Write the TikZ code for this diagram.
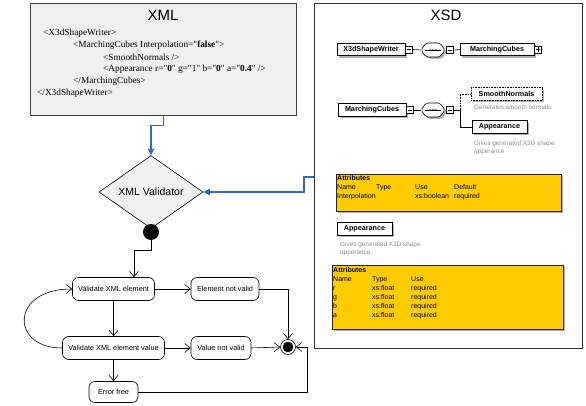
\documentclass[tikz,border=0pt]{standalone}
\usepackage{fontspec}
\setmainfont{Liberation Sans}
\newfontfamily\codefont{Liberation Serif}
\usetikzlibrary{arrows.meta,shapes.geometric,shadows,calc}
\definecolor{bluec}{HTML}{3366CC}
\definecolor{attrfill}{HTML}{FFCC00}
\definecolor{panelgray}{HTML}{F0F0F0}
\definecolor{desc}{HTML}{8C8C8C}
\newcommand\seqsym[1]{%
  \begin{scope}[shift={(#1.center)}]
   \fill[black!30, rounded corners=2pt] (-10,2)--(-5,-5)--(9,-5)--(14,2)--(9,9)--(-5,9)--cycle;
   \draw[fill=white, line width=0.6pt, rounded corners=2pt] (-12,0)--(-7,-7)--(7,-7)--(12,0)--(7,7)--(-7,7)--cycle;
   \draw[line width=0.5pt] (-8,0)--(8,0);
   \foreach \d in {-3,0,3} \fill (\d,0) circle (0.9pt);
  \end{scope}}
\begin{document}
\begin{tikzpicture}[x=1pt,y=-1pt,
  codeline/.style={anchor=west, inner sep=0, font=\codefont\fontsize{9.3}{11}\selectfont},
  titletext/.style={font=\fontsize{15}{18}\selectfont},
  flownode/.style={draw, line width=0.6pt, rounded corners=6pt, minimum height=23pt, inner sep=0, font=\fontsize{7.3}{9}\selectfont},
  flowarr/.style={line width=0.6pt, -{Straight Barb[length=5.5pt,width=9pt]}},
  bluearr/.style={draw=bluec, line width=1.1pt, -{Triangle[length=6.5pt,width=6.5pt]}},
  shadowed/.style={drop shadow={shadow xshift=2pt, shadow yshift=-2pt, fill=black!30, opacity=1}},
  xsdel/.style={draw, fill=white, line width=0.6pt, minimum height=12.5pt, inner sep=0, font=\bfseries\fontsize{7.2}{8}\selectfont, shadowed},
  seqnode/.style={minimum width=24pt, minimum height=14pt, inner sep=0},
  minusbox/.style={draw, fill=white, line width=0.5pt, minimum size=7pt, inner sep=0, path picture={\draw[line width=0.5pt] ([xshift=1.4pt]path picture bounding box.west) -- ([xshift=-1.4pt]path picture bounding box.east);}},
  plusbox/.style={minusbox, path picture={\draw[line width=0.5pt] ([xshift=1.4pt]path picture bounding box.west) -- ([xshift=-1.4pt]path picture bounding box.east); \draw[line width=0.5pt] ([yshift=-1.4pt]path picture bounding box.north) -- ([yshift=1.4pt]path picture bounding box.south);}},
  desctxt/.style={anchor=north west, inner sep=0, align=left, text=desc, font=\fontsize{6.4}{8}\selectfont},
  attrbox/.style={draw=black!85, line width=0.8pt, fill=attrfill, anchor=north west, inner sep=0, shadowed},
  attrtab/.style={anchor=base west, inner sep=0, font=\fontsize{7}{9}\selectfont}
]
\useasboundingbox (0,0) rectangle (586,406);

% ---------- XML panel ----------
\node[draw=black!75, line width=0.8pt, fill=panelgray, anchor=north west, minimum width=266pt, minimum height=112pt, inner sep=0] (xmlbox) at (30,3) {};
\node[titletext] (xmltitle) at (163,15) {XML};
\node[codeline] (c1) at (43,33) {<X3dShapeWriter>};
\node[codeline] (c2) at (73,45) {<MarchingCubes Interpolation="\textbf{false}">};
\node[codeline] (c3) at (103,57) {<SmoothNormals />};
\node[codeline] (c4) at (103,69) {<Appearance r="\textbf{0}" g="1" b="\textbf{0}" a="\textbf{0.4}" />};
\node[codeline] (c5) at (73,81) {</MarchingCubes>};
\node[codeline] (c6) at (37,93) {</X3dShapeWriter>};

% ---------- XSD panel ----------
\node[draw=black!80, line width=0.8pt, anchor=north west, minimum width=268pt, minimum height=345pt, inner sep=0] (xsdbox) at (314,3) {};
\node[titletext] (xsdtitle) at (446,15) {XSD};

% row 1
\node[xsdel, minimum width=68pt] (xsw) at (371,49.5) {X3dShapeWriter};
\node[minusbox, anchor=west] (m1) at (xsw.east) {};
\node[seqnode] (seq1) at (433,50) {};
\draw[line width=0.6pt] (m1.east) -- (seq1.west);
\seqsym{seq1}
\node[minusbox] (m2) at (450,50) {};
\node[xsdel, minimum width=74pt] (mc1) at (497,49.5) {MarchingCubes};
\node[plusbox, anchor=west] (p1) at (mc1.east) {};
\draw[line width=0.6pt] (m2.east) -- (mc1.west);

% row 2
\node[xsdel, minimum width=68pt] (mc2) at (372,110) {MarchingCubes};
\node[minusbox, anchor=west] (m3) at (mc2.east) {};
\node[seqnode] (seq2) at (433,110) {};
\draw[line width=0.6pt] (m3.east) -- (seq2.west);
\seqsym{seq2}
\node[minusbox] (m4) at (450,110) {};
\coordinate (br) at (460,110);
\node[xsdel, densely dotted, minimum width=71pt] (sn) at (506.5,94) {SmoothNormals};
\node[xsdel, minimum width=55pt] (app1) at (499.5,127) {Appearance};
\draw[line width=0.6pt] (m4.east) -- (br);
\draw[line width=0.6pt, densely dotted] (br) |- (sn.west);
\draw[line width=0.6pt] (br) |- (app1.west);
\node[desctxt] (d1) at (474,105) {Generates smooth normals};
\node[desctxt] (d2) at (474,140.5) {Gives generated X3D shape\\apperance};

% attributes 1
\node[attrbox, minimum width=225pt, minimum height=37pt] (attr1) at (336,174) {};
\node[attrtab] (attr1t) at (337,180.5) {\begin{tabular}[t]{@{}p{39pt}@{}p{39pt}@{}p{39pt}@{}l@{}}
\multicolumn{4}{@{}l@{}}{\textbf{Attributes}}\\
Name & Type & Use & Default\\
Interpolation & & xs:boolean & required
\end{tabular}};

% appearance 2
\node[xsdel, minimum width=55pt] (app2) at (364.5,229) {Appearance};
\node[desctxt] (d3) at (340,241.5) {Gives generated X3D shape\\apperance};

% attributes 2
\node[attrbox, minimum width=231pt, minimum height=64pt] (attr2) at (332,265) {};
\node[attrtab] (attr2t) at (333,272.5) {\begin{tabular}[t]{@{}p{39pt}@{}p{39pt}@{}l@{}}
\multicolumn{3}{@{}l@{}}{\textbf{Attributes}}\\
Name & Type & Use\\
r & xs:float & required\\
g & xs:float & required\\
b & xs:float & required\\
a & xs:float & required
\end{tabular}};

% ---------- flow ----------
\node[diamond, draw, line width=0.6pt, fill=panelgray, minimum width=104pt, minimum height=63pt, inner sep=0, font=\fontsize{10.5}{12}\selectfont] (validator) at (151,192) {XML Validator};
\node[circle, fill=black, minimum size=16pt, inner sep=0] (start) at (151,232) {};
\node[flownode, minimum width=82pt] (velem) at (113.5,289) {Validate XML element};
\node[flownode, minimum width=68pt] (enot) at (225,289) {Element not valid};
\node[flownode, minimum width=102pt] (vval) at (113.5,348) {Validate XML element value};
\node[flownode, minimum width=60pt] (vnot) at (221,348) {Value not valid};
\node[flownode, minimum width=49pt, minimum height=21pt] (errfree) at (113.5,392) {Error free};
\node[circle, draw, line width=0.6pt, minimum size=15pt, inner sep=0] (final) at (288,347) {};
\fill (final.center) circle (5.3pt);

\coordinate (j1) at (134,250);
\draw[flowarr] (start.south) |- (j1) -- (j1 |- velem.north);
\draw[flowarr] (velem.east) -- (enot.west);
\draw[flowarr] (enot.east) -| (final.north);
\draw[flowarr] (velem.south) -- (vval.north);
\draw[flowarr] (vval.south) -- (errfree.north);
\draw[flowarr] (vval.east) -- (vnot.west);
\draw[flowarr] (vnot.east) -- (final.west);
\coordinate (j2) at (307,347);
\draw[flowarr] (errfree.east) -| (j2) -- (final.east);
\draw[flowarr] (vval.west) .. controls (10,348) and (10,289) .. (velem.west);

% blue connectors
\draw[bluearr] (xmlbox.south) -- ++(0,10) -| (validator.north);
\coordinate (xsdport) at (314,177);
\draw[bluearr] (xsdport) -- ++(-10,0) |- (validator.east);
\end{tikzpicture}
\end{document}
